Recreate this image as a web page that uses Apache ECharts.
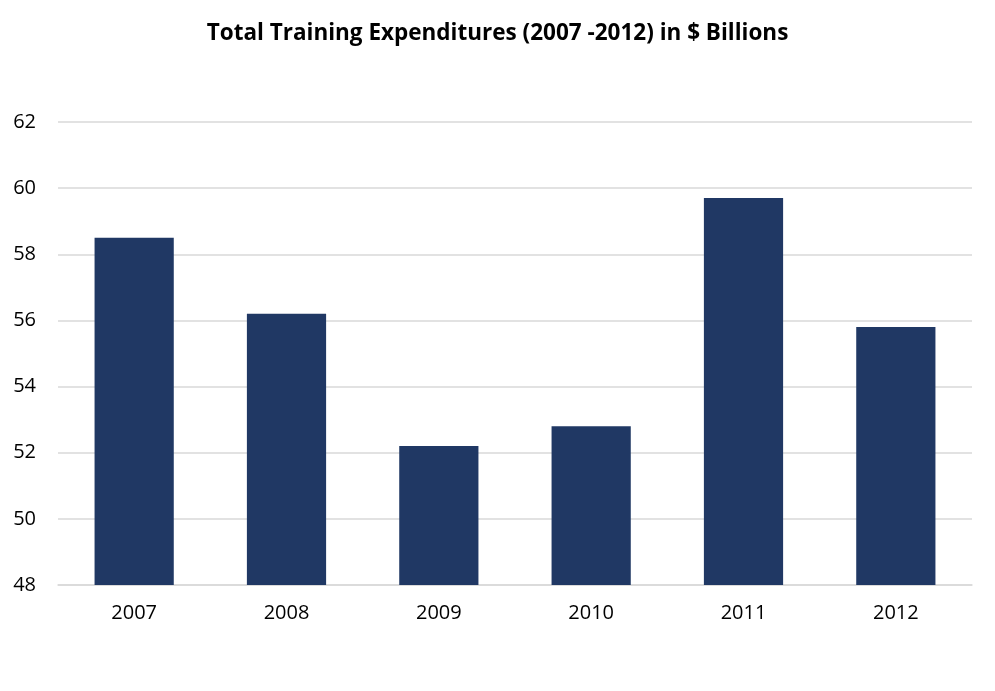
<!DOCTYPE html>
<html><head><meta charset="utf-8">
<script src="https://cdn.jsdelivr.net/npm/echarts@6/dist/echarts.min.js"></script>
<style>html,body{margin:0;padding:0;background:#fff}#c{width:995px;height:691px}</style>
</head><body><div id="c"></div>
<script>
const categories = ['2007','2008','2009','2010','2011','2012'];
const values = [58.5, 56.2, 52.2, 52.8, 59.7, 55.8];
const titleText = 'Total Training Expenditures (2007 -2012) in $ Billions';
const chart = echarts.init(document.getElementById('c'));
chart.setOption({
  animation: false,
  title: { text: titleText, left: 'center', top: 17,
    textStyle: { fontFamily: 'Open Sans', fontWeight: 'bold', fontSize: 22.5, color: '#000' } },
  grid: { left: 58, right: 23, top: 122, bottom: 106 },
  xAxis: { type: 'category', data: categories,
    axisLine: { lineStyle: { color: '#d9d9d9', width: 1.5 } }, axisTick: { show: false },
    axisLabel: { color: '#000', fontSize: 20, fontFamily: 'Open Sans', margin: 18 } },
  yAxis: { type: 'value', min: 48, max: 62, interval: 2,
    axisLine: { show: false }, axisTick: { show: false },
    splitLine: { lineStyle: { color: '#d9d9d9', width: 1.5 } },
    axisLabel: { color: '#000', fontSize: 20, fontFamily: 'Open Sans', margin: 22 } },
  series: [{ type: 'bar', data: values, barWidth: '52%', itemStyle: { color: '#203864' } }]
});
</script></body></html>
